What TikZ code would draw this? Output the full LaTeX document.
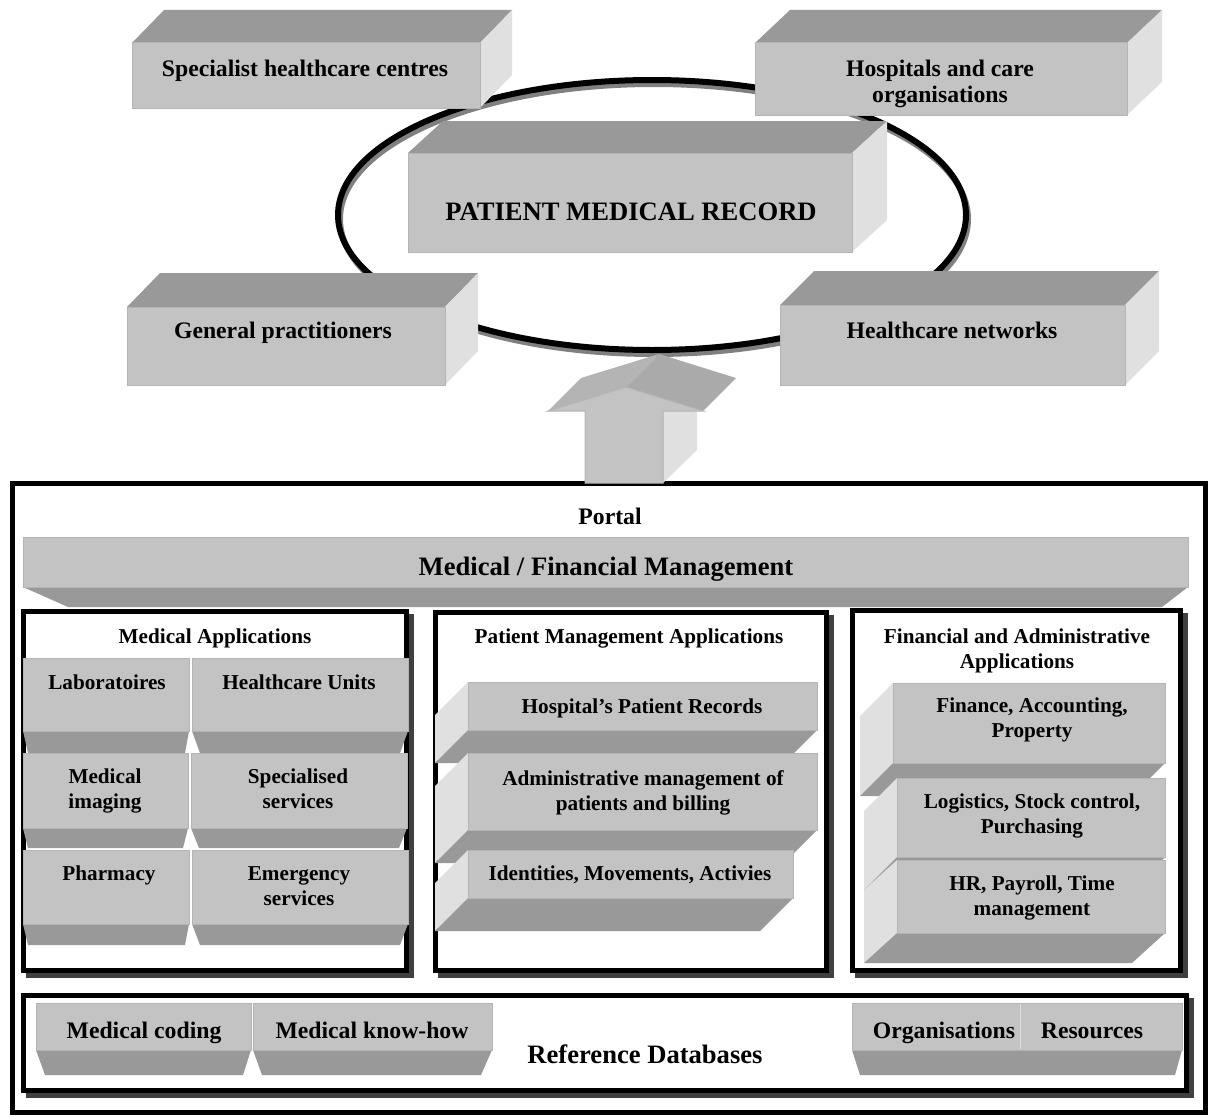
\documentclass[tikz,border=0pt]{standalone}
\usepackage{fontspec}
\setmainfont{Liberation Serif}
\definecolor{frontc}{HTML}{C3C3C3}
\definecolor{darkc}{HTML}{999999}
\definecolor{sidec}{HTML}{E0E0E0}
\definecolor{edgec}{HTML}{B4B4B4}
\definecolor{shadc}{HTML}{404040}
\definecolor{ellshad}{HTML}{808080}
\definecolor{arrtopa}{HTML}{B4B4B4}
\definecolor{arrtopb}{HTML}{AAAAAA}
\tikzset{
  frontface/.style={fill=frontc, draw=edgec, line width=1pt},
  darkface/.style={fill=darkc},
  sideface/.style={fill=sidec},
  txtbig/.style={font=\bfseries\fontsize{26.6}{30}\selectfont, inner sep=0pt, anchor=base, align=center},
  txtmid/.style={font=\bfseries\fontsize{23.7}{26}\selectfont, inner sep=0pt, anchor=base, align=center},
  txtsmall/.style={font=\bfseries\fontsize{21.2}{25}\selectfont, inner sep=0pt, anchor=base, align=center},
  panelbox/.style={line width=5pt, draw=black, fill=white},
  panelshadow/.style={line width=5pt, draw=shadc},
}
% 3D box with depth towards upper right: front x1 y1 x2 y2, depth dx dy
\newcommand\cubeur[6]{%
  \fill[darkface] (#1,#2) -- ({#1+#5},{#2+#6}) -- ({#3+#5},{#2+#6}) -- (#3,#2) -- cycle;
  \fill[sideface] (#3,#2) -- ({#3+#5},{#2+#6}) -- ({#3+#5},{#4+#6}) -- (#3,#4) -- cycle;
  \filldraw[frontface] (#1,#2) rectangle (#3,#4);}
% 3D box with depth towards lower left
\newcommand\cubedl[6]{%
  \fill[sideface] (#1,#2) -- ({#1+#5},{#2+#6}) -- ({#1+#5},{#4+#6}) -- (#1,#4) -- cycle;
  \fill[darkface] (#1,#4) -- (#3,#4) -- ({#3+#5},{#4+#6}) -- ({#1+#5},{#4+#6}) -- cycle;
  \filldraw[frontface] (#1,#2) rectangle (#3,#4);}
% front with bottom trapezoid: x1 y1 x2 y2 ybottom xbl xbr
\newcommand\trapbox[7]{%
  \fill[darkface] (#1,#4) -- (#3,#4) -- (#7,#5) -- (#6,#5) -- cycle;
  \filldraw[frontface] (#1,#2) rectangle (#3,#4);}
\begin{document}
\begin{tikzpicture}[x=1pt,y=-1pt]
\useasboundingbox (0,0) rectangle (1212,1116);
% ellipse
\draw[ellshad, line width=6pt] (654,219) ellipse [x radius=314, y radius=135];
\draw[black, line width=6pt] (652,215) ellipse [x radius=314, y radius=135];
% top boxes
\cubeur{132}{43}{480}{108}{32}{-33}
\cubeur{755}{43}{1127}{115}{35}{-33}
\cubeur{408}{153}{852}{252}{35}{-32}
\cubeur{127}{307}{445}{385}{33}{-34}
\cubeur{780}{305}{1125}{385}{34}{-34}
\node[txtmid] (spec) at (305,76) {Specialist healthcare centres};
\node[txtmid] (hosp) at (940,102) {Hospitals and care\\organisations};
\node[txtbig] (pmr) at (631,220) {PATIENT MEDICAL RECORD};
\node[txtmid] (gp) at (283,338) {General practitioners};
\node[txtmid] (hnet) at (952,338) {Healthcare networks};
% outer frame
\draw[line width=5pt] (12,483) rectangle (1205,1112);
% big arrow
\fill[sideface] (663,411) -- (697,378) -- (697,450) -- (663,483) -- cycle;
\fill[arrtopa] (548,411) -- (626,387) -- (659,354) -- (581,378) -- cycle;
\fill[arrtopb] (626,387) -- (703,411) -- (736,378) -- (659,354) -- cycle;
\filldraw[frontface] (585,483) -- (585,411) -- (548,411) -- (626,387) -- (703,411) -- (663,411) -- (663,483) -- cycle;
% portal bar
\node[txtmid] (portal) at (610,524) {Portal};
\fill[darkface] (23,587) -- (1188,587) -- (1162,607) -- (68,607) -- cycle;
\filldraw[frontface] (23,537) rectangle (1188,587);
\node[txtbig] (mfm) at (606,575) {Medical / Financial Management};
% panels
\draw[panelshadow] (28,616) rectangle (411,975);
\draw[panelbox] (23,611) rectangle (406,970);
\draw[panelshadow] (440,617) rectangle (831,975);
\draw[panelbox] (435,612) rectangle (826,970);
\draw[panelshadow] (857,615) rectangle (1185,975);
\draw[panelbox] (852,610) rectangle (1180,970);
\draw[panelshadow] (28,1000) rectangle (1191,1095);
\draw[panelbox] (23,995) rectangle (1186,1090);
% medical applications
\node[txtsmall] (medapp) at (215,643) {Medical Applications};
\trapbox{23}{658}{189}{731}{753}{28}{185}
\trapbox{192}{658}{408}{731}{753}{200}{400}
\trapbox{23}{753}{188}{828}{848}{28}{183}
\trapbox{191}{753}{407}{828}{848}{199}{399}
\trapbox{23}{850}{189}{924}{945}{28}{185}
\trapbox{192}{850}{408}{924}{945}{200}{400}
\node[txtsmall] (lab) at (107,689) {Laboratoires};
\node[txtsmall] (hcu) at (299,689) {Healthcare Units};
\node[txtsmall] (mi) at (105,808) {Medical\\imaging};
\node[txtsmall] (ss) at (298,808) {Specialised\\services};
\node[txtsmall] (ph) at (109,880) {Pharmacy};
\node[txtsmall] (es) at (299,905) {Emergency\\services};
% patient management
\node[txtsmall] (pma) at (629,643) {Patient Management Applications};
\cubedl{468}{682}{817}{730}{-33}{33}
\cubedl{468}{753}{817}{830}{-33}{33}
\cubedl{468}{850}{793}{898}{-33}{33}
\node[txtsmall] (hpr) at (642,713) {Hospital’s Patient Records};
\node[txtsmall] (amp) at (643,810) {Administrative management of\\patients and billing};
\node[txtsmall] (ima) at (630,880) {Identities, Movements, Activies};
% financial
\node[txtsmall] (faa) at (1017,668) {Financial and Administrative\\Applications};
\cubedl{893}{683}{1165}{763}{-33}{33}
\cubedl{897}{778}{1165}{857}{-33}{33}
\cubedl{897}{860}{1165}{933}{-33}{30}
\node[txtsmall] (fap) at (1032,737) {Finance, Accounting,\\Property};
\node[txtsmall] (lsp) at (1032,833) {Logistics, Stock control,\\Purchasing};
\node[txtsmall] (hrp) at (1032,915) {HR, Payroll, Time\\management};
% reference databases
\trapbox{36}{1003}{251}{1050}{1075}{45}{243}
\trapbox{253}{1003}{492}{1050}{1075}{262}{481}
\trapbox{852}{1003}{1182}{1050}{1075}{860}{1175}
\draw[sidec, line width=1pt] (1020,1004) -- (1020,1049);
\node[txtmid] (mc) at (144,1038) {Medical coding};
\node[txtmid] (mkh) at (372,1038) {Medical know-how};
\node[txtbig] (rdb) at (645,1063) {Reference Databases};
\node[txtmid] (org) at (944,1038) {Organisations};
\node[txtmid] (res) at (1092,1038) {Resources};
\end{tikzpicture}
\end{document}
